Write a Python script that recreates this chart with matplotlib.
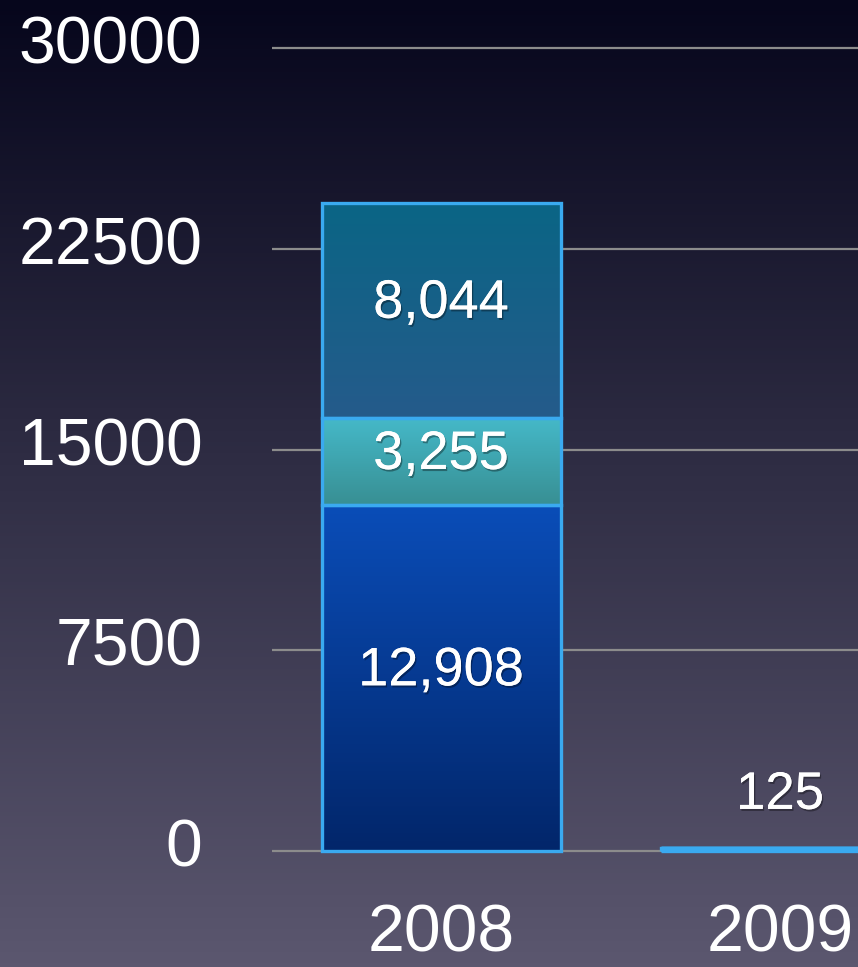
import matplotlib
matplotlib.use("Agg")
import matplotlib.pyplot as plt
import matplotlib.patheffects as pe
import numpy as np
from matplotlib.colors import to_rgb
from matplotlib.transforms import ScaledTranslation

plt.rcParams["font.family"] = ["Liberation Sans", "DejaVu Sans"]

# datos
anios = ["2008", "2009"]
serie_base = [12908, 125]
serie_media = [3255, 0]
serie_alta = [8044, 0]
ticks_y = [0, 7500, 15000, 22500, 30000]

# degradados (arriba, abajo) por serie
colores = {
    "base": ("#0a4db8", "#02266a"),
    "media": ("#45b9c9", "#388f93"),
    "alta": ("#0a6585", "#255b8b"),
}
BORDE = "#3aaaf0"

W, H = 858, 967
fig = plt.figure(figsize=(W / 100, H / 100), dpi=100)

# fondo degradado
fondo = fig.add_axes([0, 0, 1, 1], zorder=-10)
arriba, abajo = np.array(to_rgb("#06061c")), np.array(to_rgb("#5b576f"))
t = np.linspace(0, 1, 256)[:, None, None]
grad = arriba * (1 - t) + abajo * t
fondo.imshow(np.repeat(grad, 2, axis=1), aspect="auto", extent=(0, 1, 0, 1))
fondo.set_axis_off()

# eje principal en píxeles del original
x_izq, x_der = 272, 858
y_sup, y_inf = 30, 860
px_y0, px_y30 = 851, 48
esc = (px_y0 - px_y30) / 30000
ax = fig.add_axes([x_izq / W, (H - y_inf) / H, (x_der - x_izq) / W,
                   (y_inf - y_sup) / H])
ax.set_facecolor("none")
paso = 339
limx = ((x_izq - 441) / paso, (x_der - 441) / paso)
limy = (-(y_inf - px_y0) / esc, 30000 + (px_y30 - y_sup) / esc)

for y in ticks_y:
    ax.axhline(y, color="#8c8c8c", lw=1.6, zorder=1)

x = np.arange(len(anios))
ancho = 239 / paso
sombra = [pe.withSimplePatchShadow(offset=(1, -1.5), shadow_rgbFace="black",
                                   alpha=0.35), pe.Normal()]
arriba_txt = ScaledTranslation(0, 5 / 72, fig.dpi_scale_trans)


def segmento(xc, base, alto, nombre):
    barra = ax.bar(xc, alto, ancho, bottom=base, color="none",
                   edgecolor=BORDE, lw=2.4, zorder=4)[0]
    if alto <= 0:
        return barra
    c1, c2 = (np.array(to_rgb(c)) for c in colores[nombre])
    g = c1 * (1 - t) + c2 * t
    im = ax.imshow(np.repeat(g, 2, axis=1), aspect="auto", zorder=3,
                   extent=(xc - ancho / 2, xc + ancho / 2, base, base + alto))
    im.set_clip_path(barra)
    return barra


for i in range(len(anios)):
    base = 0
    for nombre, serie in (("base", serie_base), ("media", serie_media),
                          ("alta", serie_alta)):
        v = serie[i]
        segmento(x[i], base, v, nombre)
        if v > 2000:
            ax.text(x[i], base + v / 2, f"{v:,}", color="white", fontsize=39,
                    ha="center", va="center", zorder=6, path_effects=sombra,
                    transform=ax.transData + arriba_txt)
        elif v > 0:
            ax.annotate(f"{v:,}", (x[i], base + v), xytext=(0, 20),
                        textcoords="offset points", color="white",
                        fontsize=38, ha="center", va="bottom", zorder=6,
                        path_effects=sombra)
        base += v

ax.set_xlim(*limx)
ax.set_ylim(*limy)
ax.set_yticks(ticks_y, [str(v) for v in ticks_y])
ax.set_xticks(x, anios)
ax.tick_params(length=0, colors="white", labelsize=47.5)
ax.tick_params(axis="y", pad=50)
ax.tick_params(axis="x", pad=31)
for lab in ax.get_yticklabels():
    lab.set_transform(lab.get_transform()
                      + ScaledTranslation(0, 6 / 72, fig.dpi_scale_trans))
for s in ax.spines.values():
    s.set_visible(False)

fig.savefig("out.png", dpi=100)
